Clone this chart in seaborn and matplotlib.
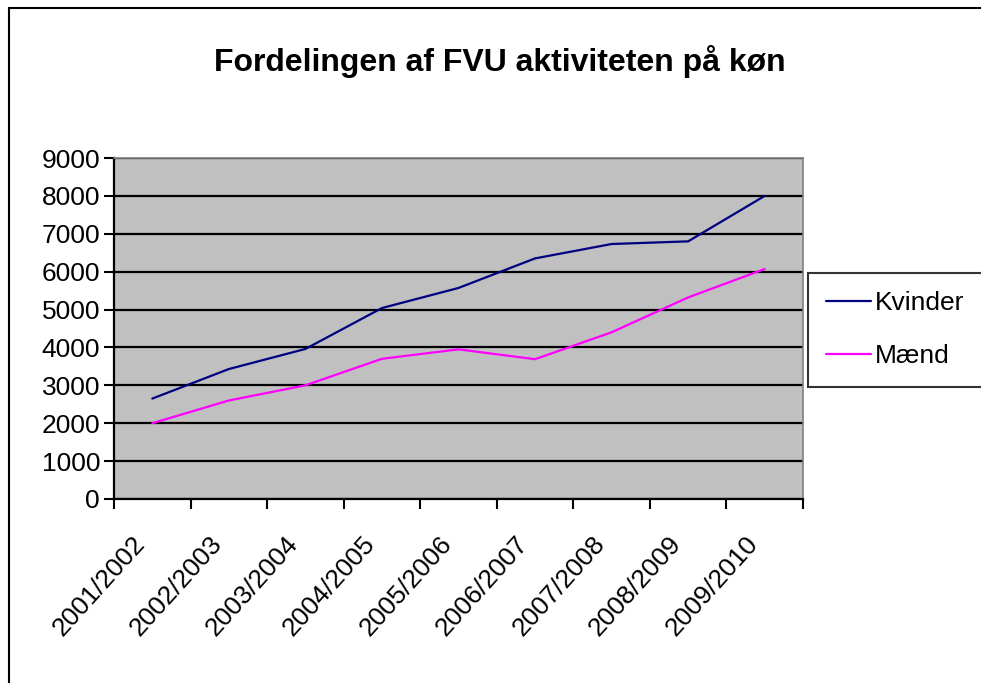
import pandas as pd
import numpy as np
import matplotlib
matplotlib.use('Agg')
import matplotlib.pyplot as plt
import matplotlib.patches as patches
import matplotlib.transforms as mtransforms
from matplotlib.lines import Line2D
import seaborn as sns

# Data
years = ['2001/2002', '2002/2003', '2003/2004', '2004/2005', '2005/2006',
         '2006/2007', '2007/2008', '2008/2009', '2009/2010']
kvinder = [2650, 3430, 3960, 5040, 5570, 6350, 6730, 6800, 8000]
maend = [2000, 2600, 3000, 3700, 3950, 3690, 4400, 5320, 6070]
series_names = ['Kvinder', 'Mænd']
colors = ['#000080', '#FF00FF']

df = pd.DataFrame({
    'pos': list(range(len(years))) * 2,
    'value': kvinder + maend,
    'serie': [series_names[0]] * len(years) + [series_names[1]] * len(years),
})

sns.set_style('white')
plt.rcParams['font.family'] = ['Liberation Sans', 'DejaVu Sans']
plt.rcParams['text.color'] = 'black'
plt.rcParams['xtick.color'] = 'black'
plt.rcParams['ytick.color'] = 'black'

fig = plt.figure(figsize=(9.81, 6.83), dpi=100)
ax = fig.add_axes([114 / 981, 1 - 499 / 683, (803 - 114) / 981, (499 - 158) / 683])

# Outer chart border
fig.add_artist(patches.Rectangle((9 / 981, -0.05), 1.1, 1.05 - 8 / 683,
                                 transform=fig.transFigure, fill=False,
                                 edgecolor='black', linewidth=1.5, clip_on=False))

ax.set_facecolor('#C0C0C0')
sns.lineplot(data=df, x='pos', y='value', hue='serie',
             palette=dict(zip(series_names, colors)),
             linewidth=1.6, ax=ax, legend=False)

ax.set_xlim(-0.5, len(years) - 0.5)
ax.set_ylim(0, 9000)
ax.set_yticks(np.arange(0, 9001, 1000))
ax.yaxis.grid(True, color='black', linewidth=1.6)
ax.set_axisbelow(True)

# category boundaries as major ticks, labels at category centres
ax.set_xticks(np.arange(-0.5, len(years), 1.0))
ax.set_xticklabels([])
ax.set_xticks(np.arange(len(years)), minor=True)
ax.set_xticklabels(years, minor=True, rotation=48, ha='right',
                   rotation_mode='anchor', fontsize=19)
ax.tick_params(axis='x', which='minor', length=0, pad=16)
ax.tick_params(axis='x', which='major', length=7, width=1.5, direction='out')
ax.tick_params(axis='y', length=7, width=1.5, direction='out', labelsize=19, pad=3)
ax.xaxis.set_ticks_position('bottom')
ax.yaxis.set_ticks_position('left')

# nudge rotated labels so they end just left of the category centre
shift = mtransforms.ScaledTranslation(-0.20, -0.10, fig.dpi_scale_trans)
for lbl in ax.get_xticklabels(minor=True):
    lbl.set_transform(lbl.get_transform() + shift)

for side in ['left', 'bottom']:
    ax.spines[side].set_color('black')
    ax.spines[side].set_linewidth(1.6)
for side in ['top', 'right']:
    ax.spines[side].set_color('#808080')
    ax.spines[side].set_linewidth(1.2)

ax.set_xlabel('')
ax.set_ylabel('')

fig.suptitle('Fordelingen af FVU aktiviteten på køn', fontsize=23,
             fontweight='bold', x=0.51, y=1 - 62 / 683, va='center')

handles = [Line2D([], [], color=c, linewidth=1.6) for c in colors]
leg = fig.legend(handles, series_names, loc='upper left',
                 bbox_to_anchor=(808 / 981, 1 - 273 / 683), fontsize=19,
                 frameon=True, fancybox=False, edgecolor='black',
                 handlelength=1.7, handletextpad=0.15, labelspacing=1.1,
                 borderpad=0.7, borderaxespad=0)
leg.get_frame().set_linewidth(1.5)

fig.savefig('out.png', dpi=100)
